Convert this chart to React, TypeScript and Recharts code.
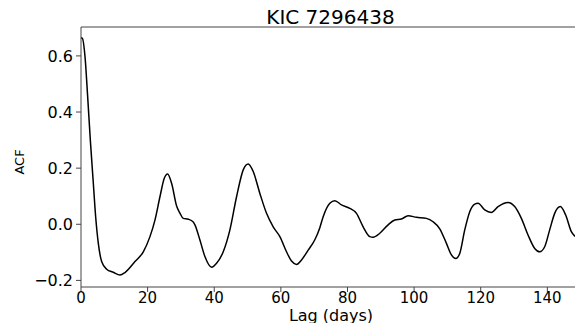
import React from 'react';
import { LineChart, Line, XAxis, YAxis, ReferenceLine } from 'recharts';

const lagDays = [
  0, 0.4, 1.2, 2.0, 2.8, 3.7, 4.4, 5.2, 6.2, 7.7, 9.7, 11.7, 13.2, 16.2, 18.7, 20.7,
  22.2, 23.7, 25.0, 26.0, 27.2, 28.7, 29.7, 30.7, 32.2, 33.7, 34.2, 35.7, 37.2, 39.2,
  40.7, 42.7, 44.7, 46.7, 48.7, 50.2, 51.7, 53.7, 55.7, 57.7, 59.7, 61.7, 63.2, 64.7,
  66.2, 68.2, 70.2, 71.7, 72.7, 74.7, 76.2, 78.2, 80.7, 82.7, 84.7, 86.7, 87.7, 89.7,
  92.2, 94.2, 96.2, 98.2, 100.7, 103.7, 105.7, 107.7, 109.7, 111.2, 112.5, 113.7,
  115.2, 116.7, 118.2, 119.2, 121.2, 123.2, 125.2, 128.2, 130.2, 132.2, 134.2, 136.2,
  137.7, 139.2, 140.7, 142.2, 143.9, 145.5, 147.2, 148.3,
];

const acfValues = [
  0.665, 0.663, 0.598, 0.455, 0.3, 0.146, 0.027, -0.068, -0.133, -0.16, -0.171, -0.181,
  -0.172, -0.133, -0.098, -0.044, 0.015, 0.098, 0.164, 0.179, 0.146, 0.065, 0.04, 0.021,
  0.018, 0.008, -0.002, -0.056, -0.115, -0.153, -0.139, -0.098, -0.02, 0.098, 0.194,
  0.215, 0.188, 0.11, 0.039, -0.009, -0.044, -0.098, -0.131, -0.143, -0.127, -0.092,
  -0.055, -0.012, 0.027, 0.075, 0.084, 0.069, 0.057, 0.039, -0.009, -0.044, -0.046,
  -0.032, -0.002, 0.015, 0.019, 0.03, 0.025, 0.021, 0.009, -0.016, -0.068, -0.109,
  -0.122, -0.104, -0.02, 0.045, 0.072, 0.075, 0.051, 0.042, 0.063, 0.078, 0.063, 0.021,
  -0.038, -0.086, -0.098, -0.08, -0.02, 0.039, 0.063, 0.033, -0.026, -0.043,
];

const xTicks = [0, 20, 40, 60, 80, 100, 120, 140];
const yTicks = [-0.2, 0.0, 0.2, 0.4, 0.6];

const title = 'KIC 7296438';
const xLabel = 'Lag (days)';
const yLabel = 'ACF';

const data = lagDays.map((lag, i) => ({ lag, acf: acfValues[i] }));

const FONT = '"DejaVu Sans", sans-serif';
const X_MAX = 148.3;
const Y_MIN = -0.2235;
const Y_MAX = 0.703;

const fmtY = (v: number) => v.toFixed(1).replace('-', '\u2212');

export default function App() {
  return (
    <div style={{ position: 'absolute', left: 0, top: 0, width: 575, height: 323, overflow: 'hidden', background: '#fff' }}>
      <LineChart width={575} height={323} data={data} margin={{ top: 27, right: 0, bottom: 0, left: 0 }}>
        <XAxis
          dataKey="lag"
          type="number"
          domain={[0, X_MAX]}
          ticks={xTicks}
          height={36}
          tickSize={5}
          tickMargin={0}
          stroke="#444"
          tick={{ fill: '#000', fontSize: 15, fontFamily: FONT }}
        />
        <YAxis
          type="number"
          domain={[Y_MIN, Y_MAX]}
          ticks={yTicks}
          allowDataOverflow
          width={81}
          tickSize={5}
          tickMargin={3}
          stroke="#444"
          tickFormatter={fmtY}
          tick={{ fill: '#000', fontSize: 16, fontFamily: FONT }}
        />
        <ReferenceLine y={Y_MAX} stroke="#444" strokeWidth={1} />
        <Line
          type="monotone"
          dataKey="acf"
          stroke="#000"
          strokeWidth={1.5}
          dot={false}
          isAnimationActive={false}
        />
      </LineChart>
      <svg width={575} height={323} style={{ position: 'absolute', left: 0, top: 0, pointerEvents: 'none' }}>
        <rect x={573.2} y={28} width={2} height={200} fill="#fff" />
        <text x={330.5} y={24} textAnchor="middle" fontSize={20} fontFamily={FONT} fill="#000">
          {title}
        </text>
        <text x={331} y={320.5} textAnchor="middle" fontSize={16} fontFamily={FONT} fill="#000">
          {xLabel}
        </text>
        <text
          x={0}
          y={0}
          transform="translate(24 162) rotate(-90)"
          textAnchor="middle"
          fontSize={13}
          fontFamily={FONT}
          fill="#000"
        >
          {yLabel}
        </text>
      </svg>
    </div>
  );
}
